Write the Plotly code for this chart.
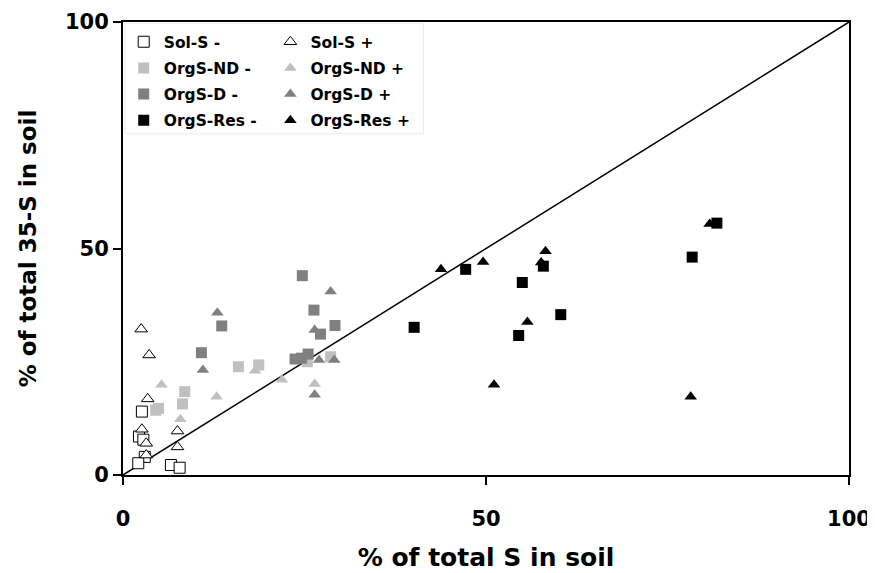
import plotly.graph_objects as go

# ---- data ----
solS_minus_x = [2.6, 2.2, 2.8, 3.0, 2.1, 6.6, 7.8]
solS_minus_y = [14.0, 8.5, 7.8, 4.0, 2.6, 2.2, 1.6]
solS_plus_x = [2.5, 3.6, 3.4, 2.6, 3.2, 3.2, 7.5, 7.5]
solS_plus_y = [32.2, 26.5, 16.8, 10.1, 7.0, 4.4, 9.7, 6.2]

orgND_minus_x = [8.5, 8.2, 4.9, 4.5, 15.9, 18.7, 25.4, 28.6]
orgND_minus_y = [18.4, 15.7, 14.7, 14.3, 23.9, 24.3, 25.0, 26.1]
orgND_plus_x = [5.3, 7.9, 12.9, 18.2, 21.9, 26.4]
orgND_plus_y = [19.9, 12.3, 17.3, 23.0, 21.0, 20.1]

orgD_minus_x = [13.6, 10.8, 24.7, 26.3, 29.2, 27.2, 23.7, 25.5, 24.6]
orgD_minus_y = [32.9, 27.0, 44.0, 36.4, 33.0, 31.1, 25.6, 26.7, 25.8]
orgD_plus_x = [13.0, 11.0, 28.6, 26.4, 27.0, 29.1, 26.4]
orgD_plus_y = [35.8, 23.2, 40.5, 32.0, 25.4, 25.4, 17.7]

orgRes_minus_x = [47.2, 57.9, 55.0, 60.3, 40.1, 54.5, 81.8, 78.4]
orgRes_minus_y = [45.4, 46.1, 42.5, 35.4, 32.6, 30.8, 55.6, 48.1]
orgRes_plus_x = [43.8, 49.6, 58.2, 57.6, 55.7, 51.1, 80.8, 78.2]
orgRes_plus_y = [45.4, 47.0, 49.4, 46.9, 33.8, 19.9, 55.4, 17.3]

line_x = [0, 100]
line_y = [0, 100]

FONT = "DejaVu Sans, Liberation Sans, Arial, sans-serif"

fig = go.Figure()
fig.add_trace(go.Scatter(x=line_x, y=line_y, mode="lines",
                         line=dict(color="black", width=1.5), showlegend=False,
                         hoverinfo="skip"))

series = [
    ("Sol-S -", solS_minus_x, solS_minus_y, "square", "white", 1, "legend"),
    ("Sol-S +", solS_plus_x, solS_plus_y, "triangle-up", "white", 1, "legend2"),
    ("OrgS-ND -", orgND_minus_x, orgND_minus_y, "square", "#c0c0c0", 0, "legend"),
    ("OrgS-ND +", orgND_plus_x, orgND_plus_y, "triangle-up", "#c0c0c0", 0, "legend2"),
    ("OrgS-D -", orgD_minus_x, orgD_minus_y, "square", "#808080", 0, "legend"),
    ("OrgS-D +", orgD_plus_x, orgD_plus_y, "triangle-up", "#808080", 0, "legend2"),
    ("OrgS-Res -", orgRes_minus_x, orgRes_minus_y, "square", "black", 0, "legend"),
    ("OrgS-Res +", orgRes_plus_x, orgRes_plus_y, "triangle-up", "black", 0, "legend2"),
]
for name, xs, ys, sym, col, lw, leg in series:
    fig.add_trace(go.Scatter(
        x=xs, y=ys, mode="markers", name=name, legend=leg, legendgroup=name,
        marker=dict(symbol=sym, size=11, color=col,
                    line=dict(color="black", width=lw)),
    ))

legfont = dict(family=FONT, size=15.5, color="black", weight="bold")
leg_common = dict(orientation="v", yanchor="top", xanchor="left",
                  bgcolor="rgba(0,0,0,0)", borderwidth=0, font=legfont,
                  tracegroupgap=3, traceorder="grouped")

fig.update_layout(
    width=867, height=565,
    margin=dict(l=115, r=26, t=14, b=98),
    plot_bgcolor="white", paper_bgcolor="white",
    font=dict(family=FONT, color="black", size=16, weight="bold"),
    legend=dict(x=0.001, y=0.993, **leg_common),
    legend2=dict(x=0.203, y=0.993, **leg_common),
    shapes=[dict(type="rect", xref="paper", yref="paper",
                 x0=0.003, x1=0.414, y0=0.753, y1=0.997,
                 line=dict(color="#ececec", width=1), layer="below")],
    xaxis=dict(
        range=[0, 100], tickvals=[0, 50, 100], ticks="outside", ticklen=8,
        tickwidth=2, tickcolor="black", automargin=False,
        showline=True, linecolor="black", linewidth=2, mirror=True,
        showgrid=False, zeroline=False,
        tickfont=dict(family=FONT, size=21, weight="bold"),
        ticklabelstandoff=16,
        title=dict(text="% of total S in soil", standoff=18,
                   font=dict(family=FONT, size=25, weight="bold")),
    ),
    yaxis=dict(
        range=[0, 100], tickvals=[0, 50, 100], ticks="outside", ticklen=8,
        tickwidth=2, tickcolor="black", automargin=False,
        showline=True, linecolor="black", linewidth=2, mirror=True,
        showgrid=False, zeroline=False,
        tickfont=dict(family=FONT, size=21, weight="bold"),
        ticklabelstandoff=0,
        title=dict(text="% of total 35-S in soil", standoff=22,
                   font=dict(family=FONT, size=23, weight="bold")),
    ),
)

fig.write_html("out.html")
